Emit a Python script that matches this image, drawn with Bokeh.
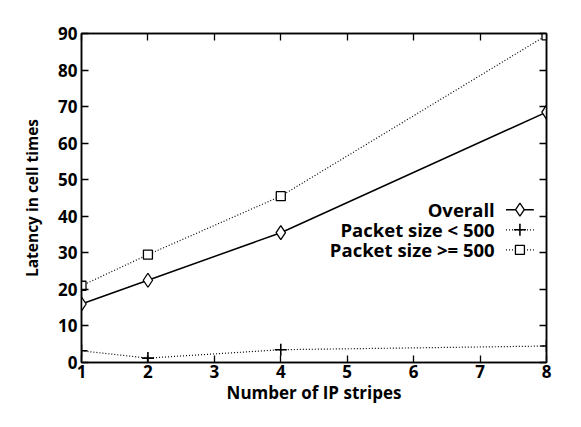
from bokeh.plotting import figure
from bokeh.models import LinearAxis, Label, Range1d, FixedTicker
from bokeh.embed import file_html
from bokeh.resources import INLINE

stripes = [1, 2, 4, 8]
overall = [16, 22.5, 35.5, 68.5]
small_pk = [3.2, 1.2, 3.5, 4.5]
large_pk = [21, 29.5, 45.5, 89.5]
series_names = ["Overall", "Packet size < 500", "Packet size >= 500"]
x_ticks = [1, 2, 3, 4, 5, 6, 7, 8]
y_ticks = [0, 10, 20, 30, 40, 50, 60, 70, 80, 90]

FONT = "Open Sans"
FS = "17px"

p = figure(width=565, height=411, output_backend="svg", toolbar_location=None,
           x_range=Range1d(1, 8), y_range=Range1d(0, 90),
           min_border_left=81, min_border_right=19, min_border_top=33, min_border_bottom=49)
p.grid.visible = False
p.outline_line_color = "black"
p.outline_line_width = 1.5

def style_axis(ax, labels=True):
    ax.major_tick_in = 7
    ax.major_tick_out = 0
    ax.major_tick_line_color = "black"
    ax.minor_tick_line_color = None
    ax.axis_line_color = "black"
    ax.axis_line_width = 1.5
    ax.major_tick_line_width = 1.3
    ax.major_label_text_font = FONT
    ax.major_label_text_font_style = "bold"
    ax.major_label_text_font_size = FS
    ax.major_label_text_color = "black"
    ax.axis_label_text_font = FONT
    ax.axis_label_text_font_style = "bold"
    ax.axis_label_text_font_size = FS
    ax.axis_label_text_color = "black"
    if not labels:
        ax.major_label_text_alpha = 0
        ax.major_label_text_font_size = "1px"

p.xaxis.ticker = FixedTicker(ticks=x_ticks)
p.yaxis.ticker = FixedTicker(ticks=y_ticks)
p.xaxis.axis_label = "Number of IP stripes"
p.yaxis.axis_label = "Latency in cell times"
style_axis(p.xaxis[0])
style_axis(p.yaxis[0])
p.yaxis.axis_label_text_font_size = "15.5px"
p.xaxis.major_label_standoff = 2
p.yaxis.major_label_standoff = 4
p.xaxis.axis_label_standoff = 0
p.yaxis.axis_label_standoff = 12

top = LinearAxis(ticker=FixedTicker(ticks=x_ticks))
right = LinearAxis(ticker=FixedTicker(ticks=y_ticks))
style_axis(top, labels=False)
style_axis(right, labels=False)
top.major_label_standoff = 0
right.major_label_standoff = 0
p.add_layout(top, "above")
p.add_layout(right, "right")

# data
p.line(stripes, overall, line_color="black", line_width=1.5)
p.scatter(stripes, overall, marker="diamond", size=14, fill_color="white", line_color="black", line_width=1.3)
p.line(stripes, small_pk, line_color="black", line_width=1.2, line_dash="1 2")
p.scatter(stripes, small_pk, marker="cross", size=12, line_color="black", line_width=1.6)
p.line(stripes, large_pk, line_color="black", line_width=1.2, line_dash="1 2")
p.scatter(stripes, large_pk, marker="square", size=9, fill_color="white", line_color="black", line_width=1.3)

# legend (text right-aligned, key to the right)
leg_y = [41.8, 36.3, 30.8]
for name, yy in zip(series_names, leg_y):
    p.add_layout(Label(x=7.22, y=yy, text=name, text_align="right", text_baseline="middle",
                       text_font=FONT, text_font_style="bold", text_font_size="18.5px", text_color="black"))
p.line([7.39, 7.81], [leg_y[0]] * 2, line_color="black", line_width=1.5)
p.scatter([7.6], [leg_y[0]], marker="diamond", size=13, fill_color="white", line_color="black", line_width=1.3)
p.line([7.39, 7.81], [leg_y[1]] * 2, line_color="black", line_width=1.2, line_dash="1 2")
p.scatter([7.6], [leg_y[1]], marker="cross", size=12, line_color="black", line_width=1.6)
p.line([7.39, 7.81], [leg_y[2]] * 2, line_color="black", line_width=1.2, line_dash="1 2")
p.scatter([7.6], [leg_y[2]], marker="square", size=9, fill_color="white", line_color="black", line_width=1.3)

open("out.html", "w").write(file_html(p, INLINE))
